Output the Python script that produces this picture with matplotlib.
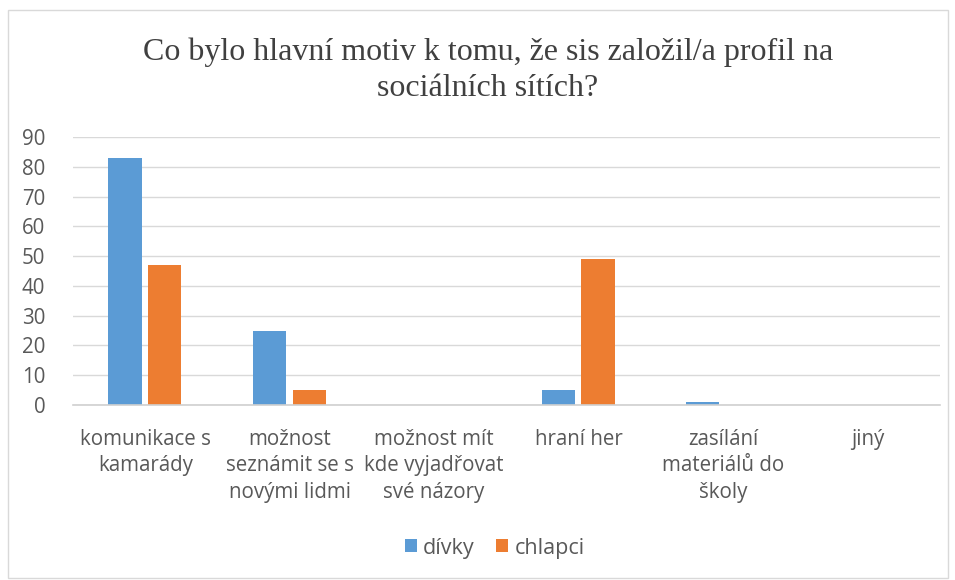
import numpy as np
import matplotlib.pyplot as plt
from matplotlib.patches import Rectangle

categories = ["komunikace s\nkamarády", "možnost\nseznámit se s\nnovými lidmi",
              "možnost mít\nkde vyjadřovat\nsvé názory", "hraní her",
              "zasílání\nmateriálů do\nškoly", "jiný"]
divky = [83, 25, 0, 5, 1, 0]
chlapci = [47, 5, 0, 49, 0, 0]
yticks = [0, 10, 20, 30, 40, 50, 60, 70, 80, 90]

fig = plt.figure(figsize=(9.55, 5.8), dpi=100)
ax = fig.add_axes([0.0764, 0.3017, 0.9076, 0.4621])

x = np.arange(len(categories))
w = 0.23
ax.bar(x - 0.14, divky, w, color="#5b9bd5", label="dívky")
ax.bar(x + 0.135, chlapci, w, color="#ed7d31", label="chlapci")

ax.set_xlim(-0.5, len(categories) - 0.5)
ax.set_ylim(0, 90)
ax.set_yticks(yticks)
ax.yaxis.grid(True, color="#d9d9d9", linewidth=1)
ax.set_axisbelow(True)
for s in ["top", "right", "left"]:
    ax.spines[s].set_visible(False)
ax.spines["bottom"].set_color("#d0d0d0")
ax.spines["bottom"].set_linewidth(1.2)
ax.tick_params(axis="both", length=0, labelsize=14.8, labelcolor="#595959")
ax.tick_params(axis="y", pad=20)
ax.tick_params(axis="x", pad=17)
ax.set_xticks(x)
ax.set_xticklabels(categories, fontfamily="Open Sans", linespacing=1.35)
for lbl in ax.get_yticklabels():
    lbl.set_fontfamily("Open Sans")

fig.text(0.511, 0.879, "Co bylo hlavní motiv k tomu, že sis založil/a profil na\nsociálních sítích?",
         ha="center", va="center", fontsize=23, fontfamily="Liberation Serif",
         color="#404040", linespacing=1.32)

leg = fig.legend(loc="center", bbox_to_anchor=(0.518, 0.055), ncol=2, frameon=False,
                 prop={"family": "Open Sans", "size": 15.5}, handlelength=0.55,
                 handleheight=0.55, handletextpad=0.3, columnspacing=1.0)
for t in leg.get_texts():
    t.set_color("#595959")

fig.patches.append(Rectangle((8 / 955, 2 / 580), 940 / 955, 568 / 580, transform=fig.transFigure,
                             fill=False, edgecolor="#d9d9d9", linewidth=1))

fig.savefig("out.png", dpi=100)
